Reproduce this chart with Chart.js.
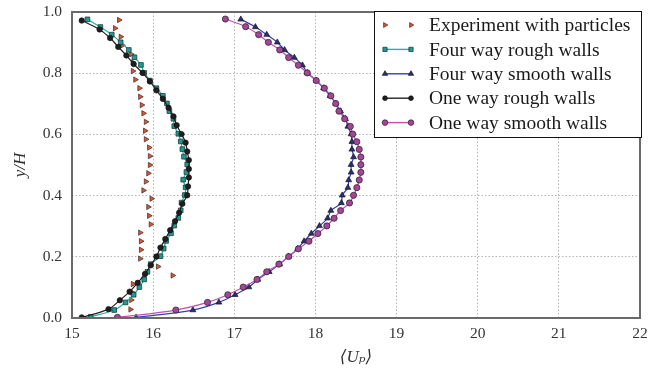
<!DOCTYPE html>
<html>
<head>
<meta charset="utf-8">
<script src="https://cdn.jsdelivr.net/npm/chart.js@4.4.1/dist/chart.umd.min.js"></script>
<style>
  body { margin: 0; background: #fff; }
  #wrap { width: 648px; height: 376px; }
</style>
</head>
<body>
<div id="wrap"><canvas id="velocityProfile" width="648" height="376"></canvas></div>
<script>
// profiles of mean particle velocity <Up> against y/H
var seriesNames = ['Experiment with particles', 'Four way rough walls', 'Four way smooth walls', 'One way rough walls', 'One way smooth walls'];

var xTicks = [15, 16, 17, 18, 19, 20, 21, 22];
var yTicks = [0.0, 0.2, 0.4, 0.6, 0.8, 1.0];

// experiment
var expY = [0.974, 0.947, 0.919, 0.891, 0.862, 0.835, 0.807, 0.779, 0.751, 0.723, 0.696, 0.669, 0.641, 0.612, 0.584, 0.557, 0.529, 0.500, 0.473, 0.446, 0.417, 0.390, 0.363, 0.334, 0.306, 0.279, 0.251, 0.223, 0.194, 0.168, 0.139, 0.111, 0.084, 0.059, 0.028];
var expU = [15.58, 15.53, 15.60, 15.62, 15.73, 15.75, 15.75, 15.78, 15.83, 15.84, 15.86, 15.88, 15.91, 15.90, 15.91, 15.95, 15.96, 15.96, 15.94, 15.91, 15.88, 15.98, 15.94, 15.95, 15.97, 15.84, 15.85, 15.85, 15.84, 16.06, 16.24, 15.75, 15.74, 15.73, 15.72];

// four way rough
var fourRoughY = [0.976, 0.951, 0.926, 0.901, 0.876, 0.852, 0.827, 0.801, 0.776, 0.751, 0.726, 0.701, 0.676, 0.651, 0.627, 0.602, 0.577, 0.552, 0.527, 0.502, 0.477, 0.452, 0.427, 0.402, 0.377, 0.352, 0.327, 0.302, 0.277, 0.252, 0.227, 0.202, 0.176, 0.151, 0.126, 0.101, 0.076, 0.051, 0.026, 0.004];
var fourRoughU = [15.19, 15.35, 15.49, 15.60, 15.70, 15.77, 15.85, 15.89, 15.96, 16.04, 16.12, 16.17, 16.20, 16.25, 16.26, 16.31, 16.34, 16.36, 16.38, 16.42, 16.41, 16.37, 16.40, 16.39, 16.35, 16.34, 16.31, 16.26, 16.22, 16.16, 16.13, 16.09, 15.97, 15.93, 15.89, 15.83, 15.76, 15.66, 15.52, 15.23];

// four way smooth
var fourSmoothY = [0.976, 0.951, 0.926, 0.901, 0.876, 0.851, 0.826, 0.801, 0.776, 0.751, 0.726, 0.701, 0.676, 0.651, 0.626, 0.601, 0.576, 0.551, 0.526, 0.501, 0.476, 0.451, 0.426, 0.401, 0.376, 0.351, 0.326, 0.301, 0.276, 0.251, 0.226, 0.201, 0.176, 0.151, 0.126, 0.101, 0.076, 0.051, 0.026, 0.002];
var fourSmoothU = [17.08, 17.26, 17.40, 17.53, 17.62, 17.74, 17.84, 17.90, 18.01, 18.10, 18.18, 18.25, 18.31, 18.37, 18.40, 18.44, 18.45, 18.45, 18.47, 18.44, 18.44, 18.41, 18.40, 18.33, 18.32, 18.19, 18.15, 18.05, 17.95, 17.86, 17.78, 17.67, 17.56, 17.43, 17.29, 17.18, 17.01, 16.81, 16.49, 15.79];

// one way rough
var oneRoughY = [0.972, 0.943, 0.915, 0.886, 0.858, 0.830, 0.801, 0.773, 0.744, 0.716, 0.687, 0.659, 0.630, 0.601, 0.573, 0.544, 0.516, 0.487, 0.459, 0.430, 0.401, 0.373, 0.344, 0.316, 0.287, 0.258, 0.230, 0.201, 0.172, 0.144, 0.115, 0.086, 0.058, 0.029, 0.002];
var oneRoughU = [15.12, 15.34, 15.47, 15.57, 15.67, 15.76, 15.87, 15.96, 16.04, 16.12, 16.19, 16.25, 16.29, 16.35, 16.40, 16.42, 16.44, 16.44, 16.44, 16.43, 16.42, 16.36, 16.32, 16.27, 16.21, 16.15, 16.09, 16.04, 15.97, 15.90, 15.81, 15.71, 15.59, 15.45, 15.12];

// one way smooth
var oneSmoothY = [0.977, 0.952, 0.926, 0.901, 0.876, 0.851, 0.826, 0.801, 0.776, 0.751, 0.726, 0.701, 0.676, 0.651, 0.626, 0.601, 0.576, 0.551, 0.526, 0.501, 0.476, 0.451, 0.426, 0.401, 0.376, 0.351, 0.326, 0.301, 0.276, 0.251, 0.226, 0.201, 0.176, 0.151, 0.126, 0.101, 0.076, 0.051, 0.026, 0.002];
var oneSmoothU = [16.89, 17.14, 17.30, 17.42, 17.56, 17.67, 17.79, 17.90, 18.01, 18.11, 18.19, 18.25, 18.29, 18.36, 18.43, 18.46, 18.51, 18.54, 18.56, 18.56, 18.56, 18.54, 18.51, 18.47, 18.42, 18.31, 18.23, 18.14, 18.03, 17.92, 17.79, 17.67, 17.55, 17.40, 17.28, 17.11, 16.92, 16.67, 16.28, 15.56];

var serif = "'Liberation Serif', 'DejaVu Serif', serif";

function pts(us, ys) {
    var out = [];
    for (var i in us) {
        out.push({x: us[i], y: ys[i]});
    }
    return out;
}

// box round the plot
var frame = {
    id: 'frame',
    afterDatasetsDraw: function(chart) {
        var a = chart.chartArea, ctx = chart.ctx;
        ctx.save();
        ctx.strokeStyle = '#6a6a6a';
        ctx.lineWidth = 2;
        ctx.strokeRect(a.left, a.top, a.right - a.left, a.bottom - a.top);
        ctx.restore();
    }
};

// legend like the original: marker - line - marker, then the label
var boxLegend = {
    id: 'boxLegend',
    afterDraw: function(chart) {
        var ctx = chart.ctx;
        var x0 = 374, y0 = 11, w = 267, h = 126;
        ctx.save();
        ctx.fillStyle = '#fff';
        ctx.fillRect(x0, y0, w, h);
        ctx.strokeStyle = '#111';
        ctx.lineWidth = 1;
        ctx.strokeRect(x0 + 0.5, y0 + 0.5, w, h);
        ctx.font = '19.5px ' + serif;
        ctx.textBaseline = 'middle';
        chart.data.datasets.forEach(function(ds, i) {
            var ty = 25 + i * 24.4;
            var xa = 385, xb = 411;
            if (ds.showLine) {
                ctx.strokeStyle = ds.borderColor;
                ctx.lineWidth = 1.4;
                ctx.beginPath();
                ctx.moveTo(xa, ty);
                ctx.lineTo(xb, ty);
                ctx.stroke();
            }
            [xa, xb].forEach(function(px) {
                ctx.save();
                ctx.fillStyle = ds.pointBackgroundColor;
                ctx.strokeStyle = ds.pointBorderColor;
                ctx.lineWidth = ds.pointBorderWidth;
                Chart.helpers.drawPoint(ctx, {
                    pointStyle: ds.pointStyle,
                    radius: ds.pointRadius - 0.3,
                    rotation: ds.pointRotation || 0,
                    borderWidth: ds.pointBorderWidth
                }, px, ty);
                ctx.restore();
            });
            ctx.fillStyle = '#1a1a1a';
            ctx.fillText(ds.label, 429, ty + 1);
        });
        ctx.restore();
    }
};

var datasets = [
    {
        label: seriesNames[0],
        data: pts(expU, expY),
        showLine: false,
        pointStyle: 'triangle',
        pointRotation: 90,
        pointRadius: 3.1,
        pointBackgroundColor: '#dd5530',
        pointBorderColor: '#3a2a2a',
        pointBorderWidth: 0.7,
        borderColor: '#dd5530',
        order: 5
    },
    {
        label: seriesNames[1],
        data: pts(fourRoughU, fourRoughY),
        showLine: true,
        tension: 0.35,
        borderColor: '#22b2a6',
        borderWidth: 1.2,
        pointStyle: 'rect',
        pointRadius: 3.3,
        pointBackgroundColor: '#1b9d96',
        pointBorderColor: '#1a2a2a',
        pointBorderWidth: 0.7,
        order: 4
    },
    {
        label: seriesNames[2],
        data: pts(fourSmoothU, fourSmoothY),
        showLine: true,
        tension: 0.35,
        borderColor: '#3440ac',
        borderWidth: 1.2,
        pointStyle: 'triangle',
        pointRadius: 3.4,
        pointBackgroundColor: '#2b2f6e',
        pointBorderColor: '#15152a',
        pointBorderWidth: 0.7,
        order: 3
    },
    {
        label: seriesNames[3],
        data: pts(oneRoughU, oneRoughY),
        showLine: true,
        tension: 0.35,
        borderColor: '#222222',
        borderWidth: 1.2,
        pointStyle: 'circle',
        pointRadius: 2.7,
        pointBackgroundColor: '#1e1e1e',
        pointBorderColor: '#111111',
        pointBorderWidth: 0.7,
        order: 2
    },
    {
        label: seriesNames[4],
        data: pts(oneSmoothU, oneSmoothY),
        showLine: true,
        tension: 0.35,
        borderColor: '#c24fb2',
        borderWidth: 1.2,
        pointStyle: 'circle',
        pointRadius: 3.1,
        pointBackgroundColor: '#a24796',
        pointBorderColor: '#2a1a2a',
        pointBorderWidth: 0.7,
        order: 1
    }
];

var ctx = document.getElementById('velocityProfile');

var profileChart = new Chart(ctx, {
    type: 'scatter',
    data: { datasets: datasets },
    plugins: [frame, boxLegend],
    options: {
        responsive: false,
        animation: false,
        devicePixelRatio: 1,
        layout: { padding: { left: 0, top: 12, right: 8, bottom: 0 } },
        plugins: {
            legend: { display: false },
            tooltip: { enabled: false }
        },
        scales: {
            x: {
                type: 'linear',
                min: 15,
                max: 22,
                afterFit: function(s) {
                    s.height = 58;
                    s.paddingLeft = 0;
                    s.paddingRight = 0;
                },
                afterBuildTicks: function(s) { s.ticks = xTicks.map(function(v) { return {value: v}; }); },
                ticks: {
                    padding: 7,
                    color: '#333',
                    font: { family: serif, size: 15.5 },
                    callback: function(v) { return v; }
                },
                grid: { color: '#b4b4b4', lineWidth: 1, tickLength: 0, drawTicks: false },
                border: { display: false, dash: [1.5, 2] },
                title: {
                    display: true,
                    text: '⟨Uₚ⟩',
                    color: '#333',
                    font: { family: serif, size: 17, style: 'italic' },
                    padding: { top: 0, bottom: 8 }
                }
            },
            y: {
                type: 'linear',
                min: 0,
                max: 1,
                afterFit: function(s) {
                    s.width = 72;
                    s.paddingTop = 0;
                    s.paddingBottom = 0;
                },
                afterBuildTicks: function(s) { s.ticks = yTicks.map(function(v) { return {value: v}; }); },
                ticks: {
                    padding: 10,
                    color: '#333',
                    font: { family: serif, size: 15.5 },
                    callback: function(v) { return v.toFixed(1); }
                },
                grid: { color: '#b4b4b4', lineWidth: 1, tickLength: 0, drawTicks: false },
                border: { display: false, dash: [1.5, 2] },
                title: {
                    display: true,
                    text: 'y/H',
                    color: '#333',
                    font: { family: serif, size: 17, style: 'italic' },
                    padding: { top: 10, bottom: 0 }
                }
            }
        }
    }
});
</script>
</body>
</html>
